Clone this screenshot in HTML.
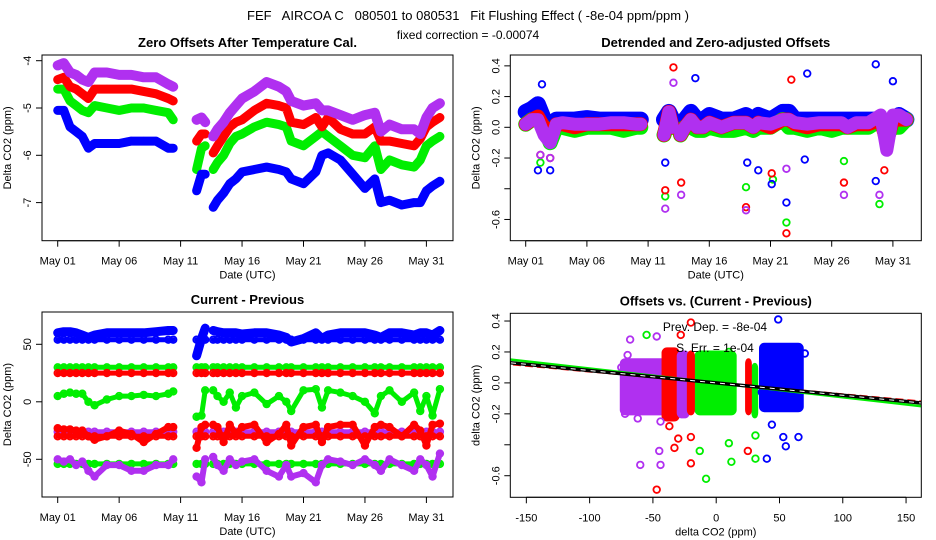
<!DOCTYPE html>
<html><head><meta charset="utf-8"><style>
html,body{margin:0;padding:0;background:#fff;}
svg{display:block;font-family:"Liberation Sans",sans-serif;}
</style></head><body>
<svg id="chart" width="936" height="540" viewBox="0 0 936 540" xmlns="http://www.w3.org/2000/svg">
<text x="468" y="20" font-size="13" text-anchor="middle" xml:space="preserve">FEF   AIRCOA C   080501 to 080531   Fit Flushing Effect ( -8e-04 ppm/ppm )</text>
<text x="468" y="39" font-size="12" text-anchor="middle">fixed correction = -0.00074</text>
<g id="plots"></g>
</svg>
<script>
// ---- shared time axis (days since May 01; null = data gap) ----
const days = [0,0.5,1,1.5,2,2.5,3,4,5,6,7,8,9,9.4,null,11.3,11.7,12.0,null,12.65,13,13.5,14,14.5,15,16,17,18,18.6,19,20,21,21.5,22,23,24,25,25.8,26.3,27,28,29,29.5,30,30.5,31.1];
const dateTicks = [0,5,10,15,20,25,30];
const dateLabels = ["May 01","May 06","May 11","May 16","May 21","May 26","May 31"];

// ---- panel 1: zero offsets ----
const p1Purple = [-4.1,-4.05,-4.25,-4.3,-4.4,-4.45,-4.25,-4.25,-4.3,-4.3,-4.35,-4.35,-4.5,-4.55,null,-5.25,-5.2,-5.3,null,-5.6,-5.45,-5.3,-5.1,-4.95,-4.8,-4.65,-4.45,-4.55,-4.65,-4.85,-4.95,-4.9,-5.05,-5.05,-5.15,-5.25,-5.15,-5.1,-5.5,-5.35,-5.45,-5.45,-5.55,-5.2,-5.0,-4.9];
const p1Red = [-4.4,-4.35,-4.55,-4.6,-4.7,-4.8,-4.6,-4.6,-4.6,-4.6,-4.65,-4.7,-4.8,-4.85,null,-5.7,-5.55,-5.55,null,-5.95,-5.8,-5.6,-5.4,-5.3,-5.25,-5.05,-4.9,-4.95,-5.0,-5.3,-5.35,-5.2,-5.4,-5.2,-5.45,-5.55,-5.55,-5.4,-5.7,-5.7,-5.75,-5.8,-5.65,-5.4,-5.3,-5.2];
const p1Green = [-4.6,-4.6,-4.85,-4.95,-5.05,-5.1,-4.95,-5.0,-5.05,-5.0,-5.0,-5.05,-5.1,-5.25,null,-6.3,-5.85,-5.8,null,-6.3,-6.15,-6.0,-5.75,-5.6,-5.55,-5.4,-5.3,-5.35,-5.4,-5.7,-5.8,-5.6,-5.5,-5.6,-5.8,-6.0,-6.05,-5.8,-6.3,-6.1,-6.2,-6.25,-6.1,-5.8,-5.7,-5.6];
const p1Blue = [-5.05,-5.05,-5.4,-5.5,-5.6,-5.85,-5.75,-5.75,-5.75,-5.7,-5.7,-5.7,-5.85,-5.85,null,-6.75,-6.4,-6.4,null,-7.1,-6.95,-6.8,-6.6,-6.5,-6.35,-6.3,-6.25,-6.3,-6.35,-6.5,-6.6,-6.35,-6.0,-5.95,-6.1,-6.4,-6.7,-6.5,-7.0,-6.95,-7.05,-7.0,-7.0,-6.75,-6.65,-6.55];
const p1Ticks = [-4,-5,-6,-7];
const p1Labels = ["-4","-5","-6","-7"];

// ---- panel 2: detrended offsets (core level + spikes) ----
const p2Blue = [0.1,0.12,0.15,0.05,-0.05,0.05,0.05,0.05,0.06,0.05,0.05,0.05,0.05,0.05,null,0.05,0.1,0.05,null,0.0,0.05,0.1,0.05,0.05,0.08,0.05,0.05,0.08,0.05,0.08,0.05,0.1,0.1,0.05,0.05,0.05,0.05,0.05,0.05,0.05,0.05,0.05,0.0,0.05,0.08,0.05];
const p2Green = [0.02,0.05,0.05,0.0,-0.1,0.0,0.0,-0.02,0.0,0.0,0.0,-0.02,0.0,0.0,null,-0.05,0.05,0.0,null,-0.05,0.0,0.0,-0.02,-0.02,0.0,-0.02,-0.02,0.0,-0.02,0.0,0.0,0.05,0.0,0.0,-0.02,0.0,-0.02,0.0,0.0,0.0,0.0,0.05,-0.05,0.0,0.0,0.05];
const p2Red = [0.02,0.05,0.07,0.0,-0.08,0.02,0.02,0.0,0.02,0.02,0.02,0.02,0.02,0.02,null,-0.05,0.1,0.0,null,-0.05,0.0,0.05,0.0,0.0,0.03,0.0,0.03,0.03,0.0,0.03,0.0,0.05,0.05,0.02,0.0,0.02,0.02,0.02,0.0,0.02,0.02,0.05,-0.1,0.05,0.05,0.05];
const p2Purple = [0.02,0.05,0.05,-0.05,-0.1,0.02,0.03,0.02,0.02,0.02,0.03,0.03,0.02,0.02,null,-0.05,0.1,0.0,null,-0.05,0.0,0.05,0.0,0.0,0.03,0.0,0.03,0.03,0.0,0.03,0.02,0.05,0.05,0.03,0.02,0.03,0.03,0.03,0.0,0.03,0.03,0.08,-0.15,0.08,0.08,0.05];
const p2SpikeBlueT = [1.0,1.33,2.0,11.4,13.86,18.1,19.0,20.1,21.3,22.8,23.0,28.6,28.6,30.0];
const p2SpikeBlueV = [-0.28,0.28,-0.28,-0.23,0.32,-0.23,-0.28,-0.37,-0.49,-0.21,0.35,0.41,-0.35,0.3];
const p2SpikeRedT = [12.07,11.4,12.7,18.0,20.1,21.3,26.0,29.3,21.7,1.2,2.0];
const p2SpikeRedV = [0.39,-0.41,-0.36,-0.52,-0.3,-0.69,-0.36,-0.28,0.31,-0.18,-0.2];
const p2SpikeGreenT = [11.4,18.0,21.3,28.9,20.2,26.0,1.2];
const p2SpikeGreenV = [-0.45,-0.39,-0.62,-0.5,-0.34,-0.22,-0.23];
const p2SpikePurpleT = [11.4,12.7,18.0,26.0,28.9,12.07,21.3,1.2,2.0];
const p2SpikePurpleV = [-0.53,-0.44,-0.54,-0.44,-0.44,0.29,-0.27,-0.18,-0.2];
const p2Ticks = [0.4,0.2,0,-0.2,-0.4,-0.6];
const p2Labels = ["0.4","0.2","0.0","-0.2","","-0.6"];

// ---- panel 3: current - previous ----
const p3Blue = [60,61,61,60,58,56,58,60,60,60,60,61,62,62,null,40,55,64,null,62,61,60,60,60,59,60,60,58,56,52,55,60,55,58,60,60,60,58,56,60,60,58,60,60,58,62];
const p3Green = [5,7,8,7,7,0,-3,2,5,5,6,5,7,9,null,-13,-12,10,null,10,5,0,8,-5,5,8,-2,5,0,-8,10,11,-5,10,8,5,0,-10,5,10,0,8,-8,5,-12,11];
const p3Red = [-23,-24,-24,-25,-25,-30,-33,-30,-25,-28,-35,-28,-22,-22,null,-40,-22,-20,null,-20,-22,-35,-20,-28,-22,-20,-35,-28,-20,-38,-22,-20,-35,-22,-20,-20,-38,-22,-20,-22,-30,-20,-25,-38,-20,-19];
const p3Purple = [-50,-52,-50,-55,-52,-60,-65,-55,-55,-60,-60,-55,-55,-50,null,-65,-70,-50,null,-48,-55,-60,-50,-55,-52,-50,-60,-65,-55,-65,-62,-70,-55,-50,-52,-55,-50,-55,-60,-50,-55,-60,-50,-55,-65,-45];
const p3Levels = [54,30,25,-26,-30,-54];
const p3LevelSeries = ["blue","green","red","purple","red","green"];
const p3Ticks = [50,0,-50];
const p3Labels = ["50","0","-50"];

// ---- panel 4: offsets vs (current - previous) ----
const p4ClusterSeries = ["green","green","red","blue","purple","red","purple","red"];
const p4ClusterXmin = [-16,29,24,35,-75,-42,-30,-22];
const p4ClusterXmax = [15,32,27,68,-40,-30,-22,-18];
const p4ClusterYmin = [-0.2,-0.22,-0.2,-0.18,-0.2,-0.24,-0.22,-0.2];
const p4ClusterYmax = [0.2,0.12,0.15,0.25,0.15,0.22,0.2,0.2];
const p4OutSeries = ["purple","purple","purple","purple","purple","purple","purple","purple","purple","purple","red","red","red","red","red","red","red","red","red","green","green","green","green","green","green","green","green","blue","blue","blue","blue","blue","blue","blue","blue"];
const p4OutX = [-75,-70,-68,-72,-62,-60,-45,-44,-47,-44,-28,-20,-47,-33,-20,-30,-20,25,-37,-55,-8,-13,10,12,31,31,10,49,40,55,53,65,70,36,44];
const p4OutY = [0.1,0.18,0.28,-0.2,-0.23,-0.53,-0.44,-0.53,0.3,-0.25,0.31,0.39,-0.69,-0.42,-0.52,-0.36,-0.35,-0.44,-0.28,0.31,-0.62,-0.44,-0.39,-0.51,-0.49,-0.34,0.2,0.41,-0.49,-0.41,-0.35,-0.35,0.19,-0.06,-0.27];
const p4FitSlopes = [-0.00093,-0.00075,-0.0008];
const p4FitSeries = ["green","red","black"];
const p4XTicks = [-150,-100,-50,0,50,100,150];
const p4XLabels = ["-150","-100","-50","0","50","100","150"];

const COL = {blue:"#0000ff", green:"#00ee00", red:"#ff0000", purple:"#b030f0", black:"#000"};
const NS = "http://www.w3.org/2000/svg";
const root = document.getElementById("plots");
function mk(tag, attrs, parent){
  const e = document.createElementNS(NS, tag);
  for (const k in attrs) e.setAttribute(k, attrs[k]);
  (parent||root).appendChild(e);
  return e;
}
function txt(parent, x, y, s, size, extra){
  const t = mk("text", Object.assign({x:x, y:y, "font-size":size, "text-anchor":"middle"}, extra||{}), parent);
  t.textContent = s;
  return t;
}

function makePanel(name, box, sx, sy){
  const g = mk("g", {});
  
  
  const clip = mk("clipPath", {id: name+"-clip"}, g);
  mk("rect", {x:box.x0, y:box.y0, width:box.x1-box.x0, height:box.y1-box.y0}, clip);
  const marks = mk("g", {"clip-path":"url(#"+name+"-clip)"}, g);
  
  
  return {g, marks, box, sx, sy};
}
function frame(P, title, yTicks, yLabels, yTitle, xTicks, xLabels, xTitle){
  const b = P.box, g = P.g;
  const fr = mk("rect", {x:b.x0, y:b.y0, width:b.x1-b.x0, height:b.y1-b.y0, fill:"none", stroke:"#000", "stroke-width":1}, g);
  
  
  const tt = txt(g, (b.x0+b.x1)/2, b.y0-8, title, 13, {"font-weight":"bold"});
  
  
  const ya = mk("g", {}, g);
  
  
  yTicks.forEach((v,i)=>{
    const y = P.sy(v);
    mk("line", {x1:b.x0-6, x2:b.x0, y1:y, y2:y, stroke:"#000"}, ya);
    if (yLabels[i]) {
      const t = txt(ya, b.x0-11, y, yLabels[i], 11, {transform:"rotate(-90 "+(b.x0-11)+" "+y+")"});
      
      
    }
  });
  const yt = txt(g, b.x0-31, (b.y0+b.y1)/2, yTitle, 11, {transform:"rotate(-90 "+(b.x0-31)+" "+((b.y0+b.y1)/2)+")"});
  
  
  const xa = mk("g", {}, g);
  
  
  mk("line", {x1:P.sx(xTicks[0]), x2:P.sx(xTicks[xTicks.length-1]), y1:b.y1, y2:b.y1, stroke:"#000"}, xa);
  xTicks.forEach((v,i)=>{
    const x = P.sx(v);
    mk("line", {x1:x, x2:x, y1:b.y1, y2:b.y1+6, stroke:"#000"}, xa);
    const t = txt(xa, x, b.y1+24, xLabels[i], 11);
    
    
  });
  const xt = txt(g, (b.x0+b.x1)/2, b.y1+38, xTitle, 11);
  
  
}
// draw a time series as a band plus open circles
function series(P, ts, vs, color, width, name){
  const g = mk("g", {}, P.marks);
  
  
  let pts = [];
  const flush = ()=>{
    if (pts.length>1) mk("polyline", {points:pts.join(" "), fill:"none", stroke:COL[color], "stroke-width":width, "stroke-linejoin":"round", "stroke-linecap":"round"}, g);
    pts = [];
  };
  ts.forEach((t,i)=>{
    if (t===null || vs[i]===null) { flush(); return; }
    const x = P.sx(t), y = P.sy(vs[i]);
    pts.push(x.toFixed(1)+","+y.toFixed(1));
    mk("circle", {cx:x, cy:y, r:3.3, fill:"none", stroke:COL[color], "stroke-width":1.8}, g);
  });
  flush();
}
function dots(P, xs, ys, color, name){
  const g = mk("g", {}, P.marks);
  
  
  xs.forEach((x,i)=>{
    const c = mk("circle", {cx:P.sx(x), cy:P.sy(ys[i]), r:3.3, fill:"none", stroke:COL[color], "stroke-width":1.8}, g);
    
    
  });
}

// Panel 1
const P1 = makePanel("zero-offsets-panel", {x0:42,x1:453,y0:55,y1:240.7}, d=>57.7+12.29*d, v=>60.7-(v+4)*47.3);
series(P1, days, p1Green, "green", 9, "series-green");
series(P1, days, p1Blue, "blue", 9, "series-blue");
series(P1, days, p1Red, "red", 9, "series-red");
series(P1, days, p1Purple, "purple", 10, "series-purple");
frame(P1, "Zero Offsets After Temperature Cal.", p1Ticks, p1Labels, "Delta CO2 (ppm)", dateTicks, dateLabels, "Date (UTC)");

// Panel 2
const P2 = makePanel("detrended-offsets-panel", {x0:510.3,x1:921.3,y0:55,y1:240.7}, d=>525.7+12.24*d, v=>127.3-v*153.6);
series(P2, days, p2Blue, "blue", 16, "series-blue");
series(P2, days, p2Green, "green", 15, "series-green");
series(P2, days, p2Red, "red", 14, "series-red");
series(P2, days, p2Purple, "purple", 13, "series-purple");
dots(P2, p2SpikeGreenT, p2SpikeGreenV, "green", "spikes-green");
dots(P2, p2SpikeBlueT, p2SpikeBlueV, "blue", "spikes-blue");
dots(P2, p2SpikeRedT, p2SpikeRedV, "red", "spikes-red");
dots(P2, p2SpikePurpleT, p2SpikePurpleV, "purple", "spikes-purple");
frame(P2, "Detrended and Zero-adjusted Offsets", p2Ticks, p2Labels, "Delta CO2 (ppm)", dateTicks, dateLabels, "Date (UTC)");

// Panel 3
const P3 = makePanel("current-previous-panel", {x0:42,x1:453,y0:312,y1:497}, d=>57.7+12.29*d, v=>401.8-v*1.15);
p3Levels.forEach((lv,k)=>{
  series(P3, days, days.map(t=>t===null?null:lv), p3LevelSeries[k], 5, "level-"+p3LevelSeries[k]);
});
series(P3, days, p3Blue, "blue", 9, "series-blue");
series(P3, days, p3Green, "green", 5, "series-green");
series(P3, days, p3Red, "red", 6, "series-red");
series(P3, days, p3Purple, "purple", 6, "series-purple");
frame(P3, "Current - Previous", p3Ticks, p3Labels, "Delta CO2 (ppm)", dateTicks, dateLabels, "Date (UTC)");

// Panel 4
const P4 = makePanel("offsets-vs-diff-panel", {x0:510.3,x1:921.3,y0:313.3,y1:497.3}, v=>716.2+1.2657*v, v=>382.9-v*154.7);
p4ClusterSeries.forEach((c,i)=>{
  const x0 = P4.sx(p4ClusterXmin[i]), x1 = P4.sx(p4ClusterXmax[i]);
  const y0 = P4.sy(p4ClusterYmax[i]), y1 = P4.sy(p4ClusterYmin[i]);
  const r = mk("rect", {x:x0, y:y0, width:x1-x0, height:y1-y0, rx:4, fill:COL[c], stroke:COL[c], "stroke-width":3}, P4.marks);
  
  
});
["purple","red","green","blue"].forEach(c=>{
  const xs = [], ys = [];
  p4OutSeries.forEach((s,i)=>{ if (s===c){ xs.push(p4OutX[i]); ys.push(p4OutY[i]); } });
  dots(P4, xs, ys, c, "outliers-"+c);
});
p4FitSlopes.forEach((m,i)=>{
  const c = p4FitSeries[i];
  const l = mk("line", {x1:P4.sx(-170), y1:P4.sy(-170*m), x2:P4.sx(170), y2:P4.sy(170*m), stroke:COL[c], "stroke-width":c==="black"?3.5:2.5}, P4.marks);
  
  
  if (c==="red") l.setAttribute("stroke-dasharray","8 4");
  if (c==="black") {
    const w = mk("line", {x1:P4.sx(-170), y1:P4.sy(-170*m), x2:P4.sx(170), y2:P4.sy(170*m), stroke:"#fff", "stroke-width":1, "stroke-dasharray":"5 5"}, P4.marks);
    
    
  }
});
const a1 = txt(P4.g, 715, 331, "Prev. Dep. =  -8e-04", 12);


const a2 = txt(P4.g, 715, 352, "S. Err. =  1e-04", 12);


frame(P4, "Offsets vs. (Current - Previous)", p2Ticks, p2Labels, "delta CO2 (ppm)", p4XTicks, p4XLabels, "delta CO2 (ppm)");
</script>
</body></html>
